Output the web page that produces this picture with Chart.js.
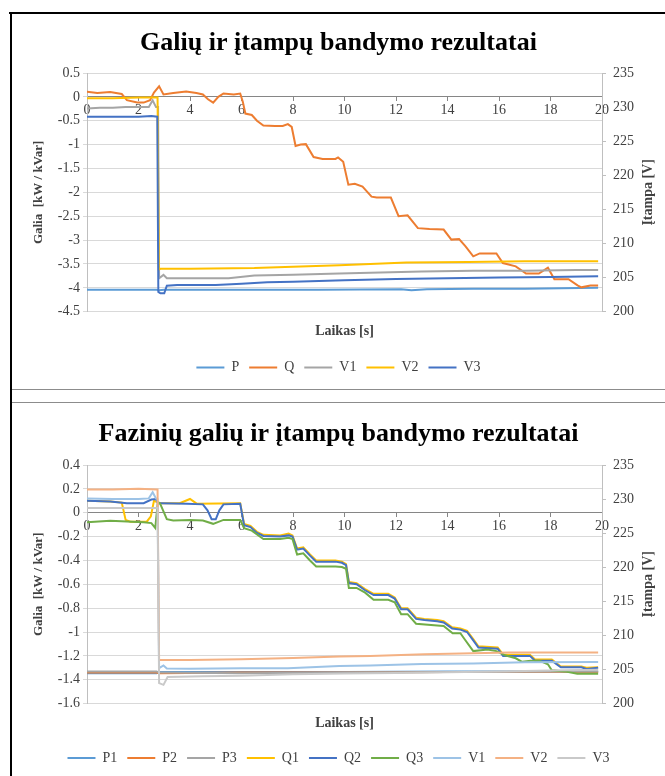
<!DOCTYPE html>
<html>
<head>
<meta charset="utf-8">
<script src="https://cdn.jsdelivr.net/npm/chart.js@4.4.1/dist/chart.umd.min.js"></script>
<style>
  html, body { margin: 0; padding: 0; background: #fff; }
  body { width: 665px; height: 776px; position: relative; overflow: hidden; }
  .frame-left { position: absolute; left: 10px; top: 12px; width: 2px; height: 764px; background: #000; }
  .frame-top { position: absolute; left: 9px; top: 12px; width: 656px; height: 2px; background: #000; }
  .sep { position: absolute; left: 12px; width: 653px; height: 1px; background: #8c8c8c; }
  .box { position: absolute; left: 12px; width: 653px; }
  #box1 { top: 14px; height: 374px; }
  #box2 { top: 404px; height: 372px; }
</style>
</head>
<body>
<div class="frame-left"></div>
<div class="frame-top"></div>
<div class="sep" style="top:389px"></div>
<div class="sep" style="top:402px"></div>
<div class="box" id="box1"><canvas id="chart1" width="653" height="374"></canvas></div>
<div class="box" id="box2"><canvas id="chart2" width="653" height="372"></canvas></div>
<script>
// ---- galios ir įtampos (bendros) ----
const pT = [0, 2.7, 2.8, 3.0, 6.0, 9.0, 12.2, 12.6, 13.2, 15.0, 17.0, 19.85];
const pV = [-4.04, -4.04, -4.05, -4.04, -4.04, -4.04, -4.03, -4.05, -4.03, -4.02, -4.02, -4.0];

const qT = [0, 0.4, 0.9, 1.35, 1.55, 1.95, 2.2, 2.45, 2.6, 2.8, 2.97,
            3.35, 3.85, 4.25, 4.5, 4.7, 4.9, 5.1, 5.3, 5.7, 5.95, 6.05,
            6.15, 6.4, 6.6, 6.85, 7.3, 7.6, 7.8, 7.95, 8.1, 8.3, 8.5,
            8.8, 9.15, 9.65, 9.75, 9.95, 10.15, 10.4, 10.7, 11.05, 11.25, 11.8,
            12.1, 12.45, 12.85, 13.3, 13.85, 14.15, 14.45, 14.7, 15.0, 15.25, 15.9,
            16.15, 16.65, 17.05, 17.55, 17.9, 18.15, 18.7, 19.05, 19.2, 19.55, 19.85];
const qV = [0.11, 0.08, 0.1, 0.06, -0.07, -0.12, -0.12, -0.07, 0.09, 0.22, 0.05,
            0.08, 0.11, 0.08, 0.05, -0.05, -0.12, 0, 0.07, 0.05, 0.07, -0.1,
            -0.35, -0.38, -0.5, -0.6, -0.61, -0.61, -0.57, -0.63, -1.03, -1.0, -0.99,
            -1.26, -1.3, -1.3, -1.27, -1.36, -1.84, -1.82, -1.88, -2.09, -2.11, -2.11,
            -2.5, -2.48, -2.75, -2.77, -2.78, -2.99, -2.98, -3.13, -3.34, -3.28, -3.28,
            -3.48, -3.55, -3.7, -3.7, -3.58, -3.82, -3.82, -3.95, -3.99, -3.95, -3.95];

const v1T = [0, 0.5, 1.0, 1.5, 2.0, 2.4, 2.55, 2.68, 2.76, 2.8, 2.97, 3.1,
             4.0, 5.5, 6.5, 8.0, 9.8, 11.0, 13.0, 15.0, 17.0, 19.0, 19.85];
const v1V = [229.8, 229.9, 229.9, 230.0, 230.0, 230.0, 231.0, 230.0, 230.0, 204.9, 205.4, 204.9,
             204.9, 204.9, 205.3, 205.4, 205.6, 205.7, 205.9, 206.0, 206.0, 206.1, 206.1];

const v2T = [0, 1.0, 2.0, 2.74, 2.79, 2.85, 4.0, 6.5, 8.0, 9.8, 11.0, 12.4, 14.8, 17.0, 19.85];
const v2V = [231.3, 231.3, 231.4, 231.4, 206.2, 206.3, 206.3, 206.4, 206.6, 206.8, 207.0, 207.2, 207.3, 207.4, 207.4];

const v3T = [0, 1.0, 2.0, 2.5, 2.73, 2.77, 2.85, 3.0, 3.1, 3.5,
             5.0, 6.0, 7.0, 8.0, 10.0, 12.0, 14.0, 16.0, 18.0, 19.85];
const v3V = [228.6, 228.6, 228.6, 228.7, 228.6, 202.9, 202.7, 202.7, 203.8, 203.9,
             203.9, 204.1, 204.3, 204.4, 204.6, 204.8, 204.9, 205.0, 205.1, 205.2];

// ---- fazinės galios ir įtampos ----
const phT = [0, 2.7, 2.8, 6, 10, 14, 19.85];
const p1V = [-1.345, -1.345, -1.335, -1.335, -1.335, -1.33, -1.33];
const p2V = [-1.34, -1.34, -1.345, -1.34, -1.34, -1.335, -1.335];
const p3V = [-1.33, -1.33, -1.34, -1.345, -1.34, -1.335, -1.33];

const q1T = [0, 0.9, 1.35, 1.5, 1.68, 2.32, 2.48, 2.6, 2.72, 2.84, 3.6,
             4.0, 4.26, 5.95, 6.1, 6.35, 6.6, 6.85, 7.5, 7.83, 7.98, 8.16,
             8.4, 8.66, 8.9, 9.65, 9.9, 10.06, 10.17, 10.47, 10.8, 11.13, 11.7,
             11.95, 12.2, 12.45, 12.78, 13.1, 13.6, 13.85, 14.18, 14.5, 14.76, 15.0,
             15.2, 15.95, 16.16, 17.2, 17.4, 18.05, 18.4, 19.2, 19.4, 19.85];
const q1V = [0.10, 0.095, 0.085, -0.06, -0.075, -0.075, -0.03, 0.10, 0.09, 0.08, 0.08,
             0.115, 0.076, 0.08, -0.095, -0.11, -0.16, -0.185, -0.19, -0.175, -0.19, -0.30,
             -0.29, -0.35, -0.40, -0.40, -0.41, -0.43, -0.58, -0.59, -0.64, -0.68, -0.68,
             -0.71, -0.80, -0.80, -0.88, -0.89, -0.90, -0.91, -0.96, -0.97, -0.99, -1.06,
             -1.12, -1.13, -1.19, -1.19, -1.23, -1.23, -1.29, -1.29, -1.30, -1.295];

const q2T = [0, 0.9, 1.55, 2.2, 2.5, 2.68, 2.76, 2.84, 3.87, 4.5, 4.68,
             4.84, 5.0, 5.14, 5.3, 5.95, 6.1, 6.35, 6.6, 6.85, 7.5, 7.83,
             7.98, 8.16, 8.4, 8.66, 8.9, 9.65, 9.9, 10.06, 10.17, 10.47, 10.8,
             11.13, 11.7, 11.95, 12.2, 12.45, 12.78, 13.1, 13.6, 13.85, 14.18, 14.5,
             14.76, 15.0, 15.2, 15.95, 16.16, 17.2, 17.4, 18.05, 18.4, 19.2, 19.4, 19.85];
const q2V = [0.10, 0.095, 0.08, 0.08, 0.11, 0.115, 0.08, 0.08, 0.076, 0.07, 0.02,
             -0.055, -0.055, 0.02, 0.07, 0.075, -0.105, -0.12, -0.17, -0.195, -0.20, -0.19,
             -0.20, -0.31, -0.30, -0.36, -0.41, -0.41, -0.42, -0.44, -0.59, -0.60, -0.65,
             -0.69, -0.69, -0.72, -0.81, -0.81, -0.89, -0.90, -0.91, -0.92, -0.97, -0.98,
             -1.00, -1.07, -1.13, -1.14, -1.20, -1.20, -1.24, -1.24, -1.295, -1.295, -1.31, -1.30];

const q3T = [0, 0.9, 2.2, 2.5, 2.65, 2.75, 2.84, 3.1, 3.35, 4.0, 4.5,
             4.9, 5.3, 5.95, 6.1, 6.4, 6.85, 7.5, 7.83, 7.98, 8.16, 8.4,
             8.66, 8.9, 9.65, 9.9, 10.06, 10.17, 10.47, 10.8, 11.13, 11.7, 11.95,
             12.2, 12.45, 12.78, 13.6, 13.85, 14.2, 14.5, 14.68, 15.0, 15.55, 15.9,
             16.24, 16.65, 16.9, 17.23, 17.56, 17.9, 18.05, 18.55, 19.04, 19.6, 19.85];
const q3V = [-0.08, -0.068, -0.08, -0.087, -0.128, 0.09, 0.076, -0.054, -0.065, -0.06, -0.065,
             -0.093, -0.06, -0.06, -0.13, -0.15, -0.22, -0.22, -0.21, -0.22, -0.35, -0.34,
             -0.40, -0.45, -0.45, -0.455, -0.47, -0.63, -0.63, -0.67, -0.73, -0.73, -0.75,
             -0.85, -0.85, -0.93, -0.945, -0.95, -1.01, -1.01, -1.065, -1.16, -1.146, -1.16,
             -1.195, -1.22, -1.25, -1.24, -1.24, -1.27, -1.32, -1.33, -1.35, -1.35, -1.35];

const fv1T = [0, 1.0, 2.0, 2.4, 2.55, 2.68, 2.74, 2.8, 2.97, 3.1,
              4.0, 6.0, 7.8, 9.8, 11.0, 13.0, 15.0, 17.0, 19.85];
const fv1V = [230.1, 230.0, 230.0, 230.1, 231.0, 230.1, 230.0, 205.2, 205.6, 205.15,
              205.1, 205.2, 205.2, 205.5, 205.6, 205.8, 205.9, 206.05, 206.1];

const fv2T = [0, 1.0, 2.0, 2.74, 2.8, 4.0, 6.0, 8.0, 9.8, 11.0, 13.1, 16.4, 19.85];
const fv2V = [231.4, 231.4, 231.5, 231.4, 206.4, 206.4, 206.5, 206.7, 206.9, 207.0, 207.25, 207.5, 207.5];

const fv3T = [0, 1.0, 2.0, 2.74, 2.8, 2.97, 3.13, 4.5, 6.0, 8.0, 10.0, 12.0, 14.0, 16.0, 18.0, 19.85];
const fv3V = [228.7, 228.7, 228.7, 228.7, 203.0, 202.75, 203.9, 204.0, 204.1, 204.3, 204.4, 204.5, 204.6, 204.7, 204.85, 204.95];

const xTicks = { min: 0, max: 20, step: 2 };
const voltTicks = { min: 200, max: 235, step: 5 };

// ---- bendri nustatymai ----
const serif = "'Liberation Serif', 'Times New Roman', serif";
const txt = '#404040';

function pts(t, v) {
  return t.map((x, i) => ({ x: x, y: v[i] }));
}

function series(list) {
  // vėlesnė serija piešiama viršuje, kaip Excel'yje
  return list.map((s, i) => ({
    label: s[0],
    borderColor: s[1],
    backgroundColor: s[1],
    data: pts(s[2], s[3]),
    yAxisID: s[4],
    xAxisID: 'x',
    borderWidth: 2,
    pointRadius: 0,
    tension: 0,
    order: list.length - i
  }));
}

const rightAxisTitle = {
  id: 'rightAxisTitle',
  afterDraw(chart, args, opts) {
    const s = chart.scales.y1;
    const a = chart.chartArea;
    const ctx = chart.ctx;
    ctx.save();
    ctx.translate(s.left + opts.offset, (a.top + a.bottom) / 2);
    ctx.rotate(-Math.PI / 2);
    ctx.font = 'bold 14px ' + serif;
    ctx.fillStyle = txt;
    ctx.textAlign = 'center';
    ctx.textBaseline = 'middle';
    ctx.fillText(opts.text, 0, 0);
    ctx.restore();
  }
};

function makeChart(id, cfg) {
  const num = v => String(Number(v.toFixed(2)));
  return new Chart(document.getElementById(id), {
    type: 'line',
    data: { datasets: series(cfg.sets) },
    options: {
      responsive: false,
      animation: false,
      layout: { padding: { left: 0, right: 0, top: 0, bottom: cfg.padBottom } },
      plugins: {
        title: {
          display: true,
          text: cfg.title,
          color: '#000',
          font: { family: serif, size: 26, weight: 'bold', lineHeight: 1.2 },
          padding: cfg.titlePad
        },
        legend: {
          position: 'bottom',
          labels: {
            usePointStyle: true,
            pointStyle: 'line',
            pointStyleWidth: 28,
            padding: 10,
            color: txt,
            font: { family: serif, size: 14 },
            sort: (a, b) => a.datasetIndex - b.datasetIndex
          }
        },
        tooltip: { enabled: false },
        rightAxisTitle: { text: 'Įtampa [V]', offset: 46 }
      },
      scales: {
        x: {
          type: 'linear',
          position: { y: 0 },
          min: xTicks.min, max: xTicks.max,
          ticks: { stepSize: xTicks.step, color: txt, font: { family: serif, size: 14 }, padding: 1 },
          grid: { drawOnChartArea: false, drawTicks: true, tickLength: 4, color: '#868686' },
          border: { color: '#868686' }
        },
        xb: {
          type: 'linear',
          position: 'bottom',
          min: xTicks.min, max: xTicks.max,
          ticks: { display: false },
          grid: { display: false },
          border: { display: false },
          title: {
            display: true, text: 'Laikas [s]', color: txt,
            font: { family: serif, size: 14, weight: 'bold', lineHeight: 1.2 },
            padding: cfg.xbPad
          }
        },
        y: {
          position: 'left',
          min: cfg.yMin, max: cfg.yMax,
          ticks: { stepSize: cfg.yStep, callback: num, color: txt, font: { family: serif, size: 14 }, padding: 3 },
          grid: { color: '#d9d9d9', tickLength: 4 },
          border: { color: '#bfbfbf' },
          title: {
            display: true, text: 'Galia  [kW / kVar]', color: txt,
            font: { family: serif, size: 13, weight: 'bold', lineHeight: 1.2 },
            padding: { top: 19, bottom: 0 }
          },
          afterFit: s => { s.width = 75; }
        },
        y1: {
          position: 'right',
          min: voltTicks.min, max: voltTicks.max,
          ticks: { stepSize: voltTicks.step, color: txt, font: { family: serif, size: 14 }, padding: 7 },
          grid: { drawOnChartArea: false, tickLength: 4, color: '#bfbfbf' },
          border: { color: '#bfbfbf' },
          afterFit: s => { s.width = 63; }
        }
      }
    },
    plugins: [rightAxisTitle]
  });
}

makeChart('chart1', {
  title: 'Galių ir įtampų bandymo rezultatai',
  titlePad: { top: 13.4, bottom: 14.4 },
  xbPad: { top: 3, bottom: 11 },
  padBottom: 3.5,
  yMin: -4.5, yMax: 0.5, yStep: 0.5,
  sets: [
    ['P', '#5B9BD5', pT, pV, 'y'],
    ['Q', '#ED7D31', qT, qV, 'y'],
    ['V1', '#A5A5A5', v1T, v1V, 'y1'],
    ['V2', '#FFC000', v2T, v2V, 'y1'],
    ['V3', '#4472C4', v3T, v3V, 'y1']
  ]
});

makeChart('chart2', {
  title: 'Fazinių galių ir įtampų bandymo rezultatai',
  titlePad: { top: 14.4, bottom: 15.4 },
  xbPad: { top: 3, bottom: 9.6 },
  padBottom: 1,
  yMin: -1.6, yMax: 0.4, yStep: 0.2,
  sets: [
    ['P1', '#5B9BD5', phT, p1V, 'y'],
    ['P2', '#ED7D31', phT, p2V, 'y'],
    ['P3', '#A5A5A5', phT, p3V, 'y'],
    ['Q1', '#FFC000', q1T, q1V, 'y'],
    ['Q2', '#4472C4', q2T, q2V, 'y'],
    ['Q3', '#70AD47', q3T, q3V, 'y'],
    ['V1', '#9DC3E6', fv1T, fv1V, 'y1'],
    ['V2', '#F4B183', fv2T, fv2V, 'y1'],
    ['V3', '#C9C9C9', fv3T, fv3V, 'y1']
  ]
});
</script>
</body>
</html>
